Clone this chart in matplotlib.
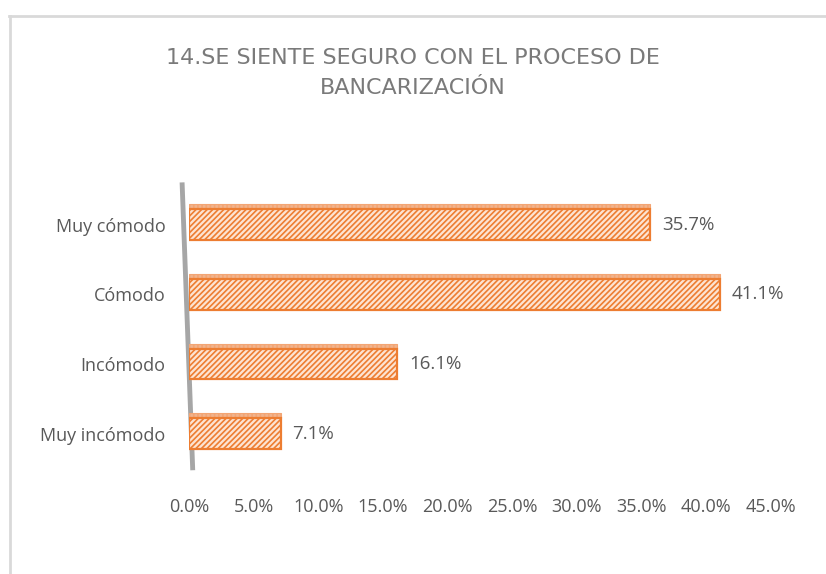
import matplotlib.pyplot as plt
from matplotlib.lines import Line2D
from matplotlib.ticker import FuncFormatter

categories = ['Muy cómodo', 'Cómodo', 'Incómodo', 'Muy incómodo']
values = [35.7, 41.1, 16.1, 7.1]
xticks = [0, 5, 10, 15, 20, 25, 30, 35, 40, 45]
title = '14.SE SIENTE SEGURO CON EL PROCESO DE\nBANCARIZACIÓN'

orange = '#ed7d31'
light = '#fde4d2'
gray_text = '#595959'

plt.rcParams['font.family'] = ['Open Sans', 'DejaVu Sans']
plt.rcParams['hatch.linewidth'] = 1.2

fig = plt.figure(figsize=(8.26, 5.74), dpi=100)
ax = fig.add_axes([0.229, 0.185, 0.704, 0.493])

ypos = list(range(len(categories) - 1, -1, -1))
bh = 0.44
ax.barh(ypos, values, height=bh, color=light, edgecolor=orange,
        hatch='//////', linewidth=1.6, zorder=3)
# thin top face for the 3D look
ax.barh([y + bh / 2 + 0.035 for y in ypos], values, height=0.07,
        color='#f0b48e', edgecolor='#f3a574', hatch='||||', linewidth=0.8, zorder=2)

for y, v in zip(ypos, values):
    ax.text(v + 0.9, y, f'{v:.1f}%', va='center', ha='left',
            fontsize=13.5, color=gray_text)

ax.set_xlim(0, 45)
ax.set_ylim(-0.49, 3.57)
ax.set_xticks(xticks)
ax.xaxis.set_major_formatter(FuncFormatter(lambda x, p: f'{x:.1f}%'))
ax.set_yticks(ypos)
ax.set_yticklabels(categories)
ax.tick_params(axis='x', length=0, pad=22, labelsize=13, labelcolor=gray_text)
ax.tick_params(axis='y', length=0, pad=17, labelsize=13, labelcolor=gray_text)
for s in ax.spines.values():
    s.set_visible(False)

# slanted vertical axis wall
ax.add_line(Line2D([-0.012, 0.006], [1.0, 0.0], transform=ax.transAxes,
                   color='#a6a6a6', linewidth=3.5, clip_on=False, zorder=1))

fig.text(0.5, 0.916, title, ha='center', va='top', fontsize=16,
         family='DejaVu Sans', color='#7a7a7a', linespacing=1.6)

# outer chart border (left and top)
fig.add_artist(Line2D([0.0127, 0.0127], [0.0, 0.972], transform=fig.transFigure,
                      color='#d9d9d9', linewidth=2))
fig.add_artist(Line2D([0.0115, 1.0], [0.972, 0.972], transform=fig.transFigure,
                      color='#d9d9d9', linewidth=2))

fig.savefig('out.png', dpi=100)
